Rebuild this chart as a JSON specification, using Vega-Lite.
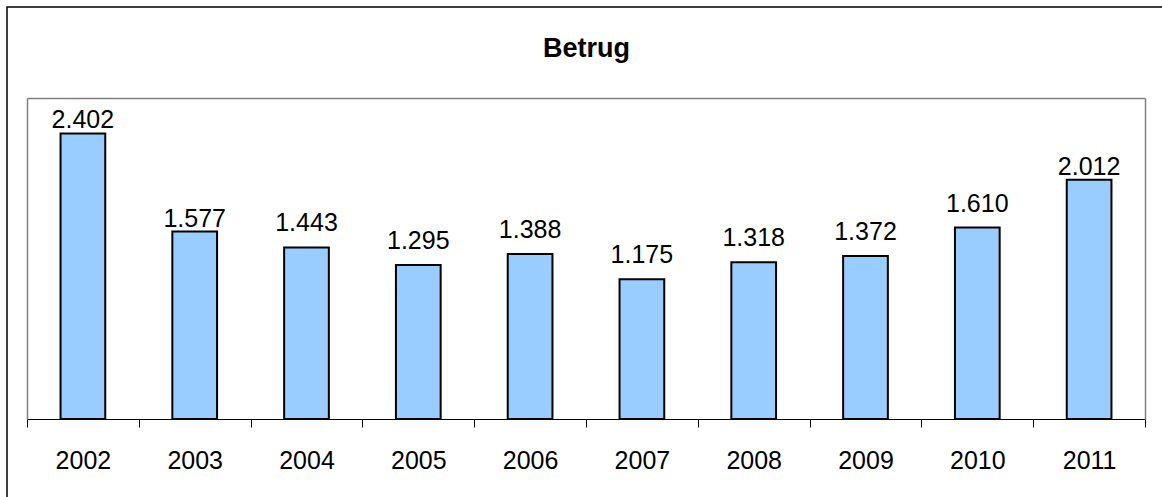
{
  "$schema": "https://vega.github.io/schema/vega-lite/v6.json",
  "autosize": {"type": "none"},
  "width": 1165,
  "height": 500,
  "padding": {"left": 7, "top": 7, "right": -10, "bottom": -10},
  "background": "white",
  "title": {
    "text": "Betrug",
    "fontSize": 27,
    "fontWeight": "bold",
    "font": "Liberation Sans",
    "color": "black",
    "anchor": "middle",
    "frame": "group",
    "offset": -77,
    "baseline": "alphabetic",
    "dx": -3
  },
  "data": {
    "values": [
      {"year": "2002", "value": 2402},
      {"year": "2003", "value": 1577},
      {"year": "2004", "value": 1443},
      {"year": "2005", "value": 1295},
      {"year": "2006", "value": 1388},
      {"year": "2007", "value": 1175},
      {"year": "2008", "value": 1318},
      {"year": "2009", "value": 1372},
      {"year": "2010", "value": 1610},
      {"year": "2011", "value": 2012}
    ]
  },
  "layer": [
    {
      "mark": {"type": "bar", "fill": "#99CCFF", "stroke": "black", "strokeWidth": 2, "width": {"band": 0.4}},
      "encoding": {
        "x": {
          "field": "year", "type": "nominal", "sort": null,
          "scale": {"range": [20, 1138], "paddingInner": 0, "paddingOuter": 0},
          "axis": {
            "orient": "bottom", "offset": -88, "domainColor": "black", "domainWidth": 1,
            "tickColor": "black", "tickSize": 8, "tickWidth": 1, "tickBand": "extent",
            "labelFont": "Liberation Sans", "labelFontSize": 25, "labelColor": "black",
            "labelPadding": 21, "labelAngle": 0, "title": null, "grid": false
          }
        },
        "y": {
          "field": "value", "type": "quantitative",
          "scale": {"domain": [0, 2700], "range": [412, 91], "nice": false, "zero": true},
          "axis": {
            "orient": "left", "offset": -20, "domainColor": "#808080", "domainWidth": 1.5,
            "ticks": false, "labels": false, "title": null, "grid": false
          }
        }
      }
    },
    {
      "transform": [{"filter": {"field": "year", "oneOf": ["2002", "2003", "2011"]}}],
      "mark": {"type": "text", "font": "Liberation Sans", "fontSize": 25, "color": "black", "baseline": "alphabetic", "dy": -5},
      "encoding": {
        "x": {
          "field": "year", "type": "nominal", "sort": null,
          "axis": {
            "orient": "top", "offset": -91, "domainColor": "#808080", "domainWidth": 1.5,
            "ticks": false, "labels": false, "title": null, "grid": false
          }
        },
        "y": {
          "field": "value", "type": "quantitative",
          "axis": {
            "orient": "right", "offset": -27, "domainColor": "#808080", "domainWidth": 1.5,
            "ticks": false, "labels": false, "title": null, "grid": false
          }
        },
        "text": {"field": "value", "type": "quantitative", "format": ",d"}
      }
    },
    {
      "transform": [{"filter": {"not": {"field": "year", "oneOf": ["2002", "2003", "2011"]}}}],
      "mark": {"type": "text", "font": "Liberation Sans", "fontSize": 25, "color": "black", "baseline": "alphabetic", "dy": -16},
      "encoding": {
        "x": {"field": "year", "type": "nominal", "sort": null, "axis": null},
        "y": {"field": "value", "type": "quantitative", "axis": null},
        "text": {"field": "value", "type": "quantitative", "format": ",d"}
      }
    }
  ],
  "resolve": {"axis": {"x": "independent", "y": "independent"}},
  "config": {
    "view": {"stroke": "black", "strokeWidth": 1.5},
    "locale": {"number": {"decimal": ",", "thousands": ".", "grouping": [3], "currency": ["", " €"]}}
  }
}
